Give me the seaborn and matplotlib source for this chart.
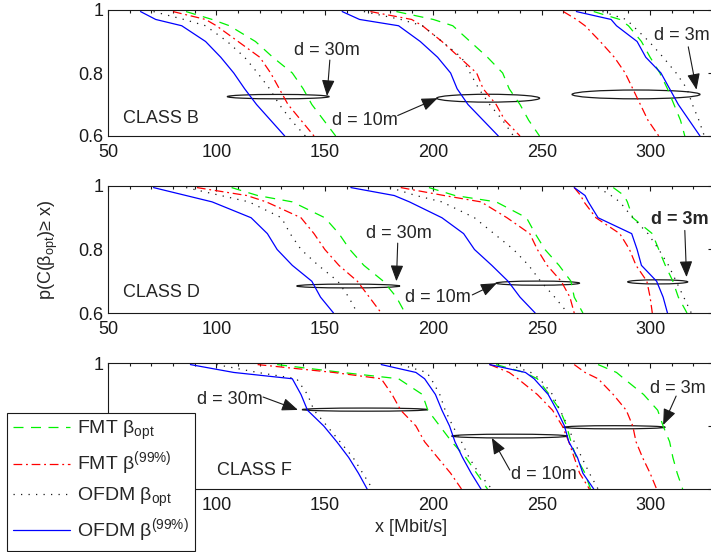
import matplotlib
matplotlib.use('Agg')
import matplotlib.pyplot as plt
import matplotlib.ticker as ticker
from matplotlib.patches import Ellipse
from matplotlib.lines import Line2D
import pandas as pd
import seaborn as sns

sns.set_theme(style='white')
plt.rcParams['font.family'] = ['Liberation Sans', 'DejaVu Sans']
plt.rcParams['font.size'] = 13

P_LEVELS = [0.995, 0.97, 0.95, 0.9, 0.85, 0.8, 0.75, 0.7, 0.65, 0.6]
CLASSES = ['CLASS B', 'CLASS D', 'CLASS F']
DISTANCES = ['d = 30m', 'd = 10m', 'd = 3m']
SERIES = ['FMT opt', 'FMT 99', 'OFDM opt', 'OFDM 99']
LEGEND_LABELS = ['FMT β$_{\\mathregular{opt}}$',
                 'FMT β$^{\\mathregular{(99\\%)}}$',
                 'OFDM β$_{\\mathregular{opt}}$',
                 'OFDM β$^{\\mathregular{(99\\%)}}$']

# x [Mbit/s] at each P_LEVELS value, rows: d = 30m, 10m, 3m
B_FMT_OPT = [[86, 98, 106, 118, 126, 135, 140, 144, 149.5, 155],
             [183, 200, 209, 217, 225, 232, 235, 240, 244, 249],
             [274, 286, 290, 296, 300, 304.5, 308, 311, 314, 316]]
B_FMT_99 = [[80, 95, 100, 110, 120, 125, 129, 133, 139, 145],
            [171, 190, 195, 204, 212, 220, 223, 229, 233, 240],
            [260, 266, 270, 277, 283.5, 288.5, 292, 295.5, 299, 304]]
B_OFDM_OPT = [[71, 85, 95, 105, 113, 119, 124.5, 129, 134.5, 141],
              [168, 185, 195, 204, 213, 217, 221, 226, 232, 237],
              [278, 289, 292, 299.5, 306, 312, 317, 319.5, 322.5, 325]]
B_OFDM_99 = [[65, 72, 84, 95, 102, 108, 113, 118.5, 125, 131.5],
             [158, 166, 184, 194, 202, 208, 211, 216, 223, 230],
             [266, 282, 284.5, 294, 298, 305, 309, 313, 318, 323]]

D_FMT_OPT = [[107, 119, 135, 150, 156.5, 161.5, 168, 177, 183, 187],
             [198, 210, 229, 243, 247, 251.5, 258, 263.5, 265, 269],
             [283, 288, 289.5, 292, 301, 304, 307, 310.5, 313, 317]]
D_FMT_99 = [[91, 114, 123, 139, 145, 150, 156.5, 165, 170.5, 176],
            [185, 205, 222, 234, 244.5, 248, 252.5, 259, 263, 265],
            [265, 268, 269.5, 275, 286, 290.5, 293.5, 298.5, 300, 301]]
D_OFDM_OPT = [[86, 102, 115, 130, 134, 139, 147, 156, 161, 165],
              [180, 192, 204, 219, 228, 237, 244, 249.5, 256, 262],
              [276, 282, 286, 292, 299, 304, 308.5, 312, 315.5, 319]]
D_OFDM_99 = [[71, 86, 98, 116, 123.5, 128, 135, 144, 148, 154],
             [162, 182, 189, 204, 214, 219, 227, 234.5, 240, 247],
             [265, 270, 271.5, 276, 291.5, 294, 296, 303, 306, 308]]

F_FMT_OPT = [[128, 158, 184, 195, 197.5, 203, 208.5, 215, 220, 225],
             [229, 242, 248, 253.5, 258.5, 261.5, 263.5, 266, 270, 272.5],
             [276, 284.5, 288, 297, 303.5, 306, 309, 310.5, 312.5, 315]]
F_FMT_99 = [[119, 154, 176, 181, 185, 192, 196, 202, 208, 213],
            [226, 235, 239, 248, 255, 259.5, 262.5, 265, 267.5, 272],
            [265, 270, 276, 283, 289, 292, 293.5, 296.5, 300, 303]]
F_OFDM_OPT = [[100, 119, 137, 142, 145, 151, 157, 163, 167.5, 172],
              [185, 197, 199, 203, 205.5, 209, 213, 216.5, 221, 227],
              [235, 245, 249, 255, 258.5, 262, 265, 268.5, 272, 276]]
F_OFDM_99 = [[88, 108, 135, 139, 142, 149.5, 155.5, 161, 165.5, 169.5],
             [176, 192, 196, 201, 204, 207.5, 210, 213.5, 217.5, 222],
             [226, 242.5, 246.5, 253, 257, 260.5, 262.5, 266.5, 269, 274]]

PANEL_DATA = [[B_FMT_OPT, B_FMT_99, B_OFDM_OPT, B_OFDM_99],
              [D_FMT_OPT, D_FMT_99, D_OFDM_OPT, D_OFDM_99],
              [F_FMT_OPT, F_FMT_99, F_OFDM_OPT, F_OFDM_99]]

colours = {'FMT opt': (0, 0.95, 0), 'FMT 99': (1, 0, 0),
           'OFDM opt': 'k', 'OFDM 99': (0, 0, 1)}
dashes = {'FMT opt': (8, 6), 'FMT 99': (7, 3, 1.5, 3),
          'OFDM opt': (1, 5), 'OFDM 99': ''}

rows = []
for cls, arrays in zip(CLASSES, PANEL_DATA):
    for s, per_dist in zip(SERIES, arrays):
        for d, xs in zip(DISTANCES, per_dist):
            for x, p in zip(xs, P_LEVELS):
                rows.append({'cls': cls, 'series': s, 'dist': d,
                             'x': x, 'p': p})
df = pd.DataFrame(rows)

# annotation geometry per panel: ellipses (cx, cy, w, h), labels, arrows
ellipses = [[(128.5, 0.725, 47, 0.014), (225.3, 0.72, 47.5, 0.025),
             (293.5, 0.732, 59, 0.028)],
            [(160.8, 0.685, 47.6, 0.012), (248.2, 0.694, 38.5, 0.013),
             (303.5, 0.698, 27.7, 0.013)],
            [(168.5, 0.852, 58, 0.01), (235.2, 0.768, 53.5, 0.012),
             (283.5, 0.796, 47, 0.01)]]
labels = [[(151, 0.873, 'center'), (168.5, 0.65, 'center'), (302, 0.92, 'left')],
          [(184, 0.85, 'center'), (202, 0.65, 'center'), (300.5, 0.893, 'left')],
          [(106.2, 0.883, 'center'), (251, 0.645, 'center'), (312.6, 0.92, 'center')]]
arrows = [[((152.3, 0.841), (151, 0.727)), ((183.6, 0.665), (202, 0.72)),
           ((317.6, 0.883), (321.4, 0.747))],
          [((183.6, 0.82), (183, 0.70)), ((218, 0.657), (229.3, 0.694)),
           ((316, 0.86), (316.8, 0.713))],
          [((121.5, 0.892), (137.6, 0.851)), ((235.3, 0.66), (227, 0.762)),
           ((312, 0.895), (306, 0.803))]]
class_pos = [(57, 0.657), (57, 0.663), (100.2, 0.66)]

W, H = 711, 552
fig = plt.figure(figsize=(W / 100, H / 100), dpi=100)
panel_px = [(10, 136), (186, 313), (363, 489)]
axes = []
for top, bottom in panel_px:
    ax = fig.add_axes([108 / W, 1 - bottom / H, 605 / W, (bottom - top) / H])
    axes.append(ax)

for i, ax in enumerate(axes):
    sub = df[df['cls'] == CLASSES[i]]
    sns.lineplot(data=sub, x='x', y='p', hue='series', style='series',
                 units='dist', estimator=None, sort=False, ax=ax,
                 palette=colours, dashes=dashes, hue_order=SERIES,
                 style_order=SERIES, lw=0.9, legend=False)

    for cx, cy, w, h in ellipses[i]:
        ax.add_patch(Ellipse((cx, cy), w, h, fill=False, ec='k', lw=0.9))
    for j, (x, y, ha) in enumerate(labels[i]):
        weight = 'bold' if (i == 1 and j == 2) else 'normal'
        ax.text(x, y, DISTANCES[j], ha=ha, va='center', fontsize=13,
                fontweight=weight, clip_on=False)
    for tail, tip in arrows[i]:
        ax.annotate('', xy=tip, xytext=tail,
                    arrowprops=dict(arrowstyle='-|>,head_length=0.7,head_width=0.28',
                                    color='k', lw=0.8, mutation_scale=14,
                                    shrinkA=0, shrinkB=0))
    ax.text(class_pos[i][0], class_pos[i][1], CLASSES[i], ha='left',
            va='center', fontsize=13)

    ax.set_xlim(50, 329)
    ax.set_ylim(0.6, 1)
    ax.xaxis.set_major_locator(ticker.MultipleLocator(50))
    ax.xaxis.set_minor_locator(ticker.MultipleLocator(10))
    ax.yaxis.set_major_locator(ticker.FixedLocator([0.6, 0.8, 1.0]))
    ax.yaxis.set_major_formatter(ticker.FuncFormatter(lambda v, pos: '%g' % round(v, 2)))
    ax.tick_params(which='both', direction='in', top=True, right=True,
                   width=0.8, colors='k', labelsize=13)
    ax.tick_params(which='major', length=3.5)
    ax.tick_params(which='minor', length=2.5)
    ax.tick_params(axis='x', which='major', pad=6)
    ax.tick_params(axis='y', which='major', pad=3.5)
    for sp in ax.spines.values():
        sp.set_color('k')
        sp.set_linewidth(0.8)
    ax.set_xlabel('')
    ax.set_ylabel('')

# the legend box covers these labels of the lowest panel
axes[2].yaxis.set_major_formatter(ticker.FuncFormatter(
    lambda v, pos: '1' if v > 0.9 else ''))
axes[2].xaxis.set_major_formatter(ticker.FuncFormatter(
    lambda v, pos: '' if v < 60 else '%g' % v))

axes[1].set_ylabel('p(C(β$_{\\mathregular{opt}}$)≥ x)', fontsize=13)
axes[1].yaxis.set_label_coords(-0.08, 0.5)
axes[2].set_xlabel('x [Mbit/s]', fontsize=13)
axes[2].xaxis.set_label_coords(0.5008, -0.24)

handles = [Line2D([], [], color=colours[s], lw=0.9,
                  **({'dashes': dashes[s]} if dashes[s] else {'linestyle': '-'}))
           for s in SERIES]
leg = fig.legend(handles, LEGEND_LABELS, loc='lower left',
                 bbox_to_anchor=(7 / W, 1 / H), bbox_transform=fig.transFigure,
                 borderaxespad=0, fontsize=14, frameon=True, fancybox=False,
                 edgecolor='k', framealpha=1, handlelength=2.9,
                 handletextpad=0.4, labelspacing=0.37, borderpad=0.32)
leg.get_frame().set_linewidth(0.8)

plt.savefig('out.png', dpi=100)
